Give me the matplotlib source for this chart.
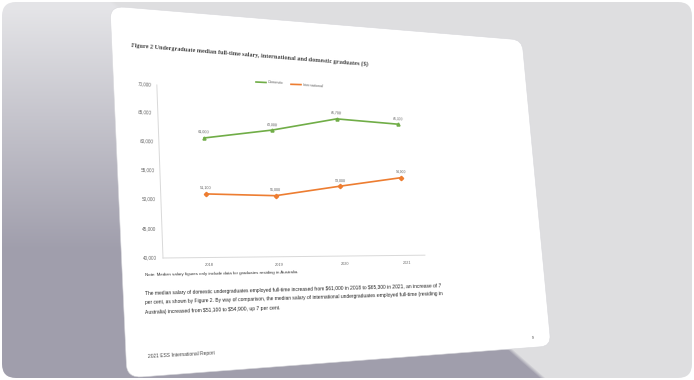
import numpy as np
import matplotlib
matplotlib.use("Agg")
import matplotlib.pyplot as plt
from matplotlib.transforms import Transform, Affine2D
from matplotlib.patches import FancyBboxPatch
from matplotlib.lines import Line2D

# ---------------- data ----------------
years = ["2018", "2019", "2020", "2021"]
domestic = [61000, 63000, 65700, 65300]
international = [51100, 51000, 53000, 54900]
y_ticks = [40000, 45000, 50000, 55000, 60000, 65000, 70000]
series_names = ["Domestic", "International"]
title = "Figure 2 Undergraduate median full-time salary, international and domestic graduates ($)"
note = "Note: Median salary figures only include data for graduates residing in Australia."
paragraph = [
    "The median salary of domestic undergraduates employed full-time increased from $61,000 in 2018 to $65,300 in 2021, an increase of 7",
    "per cent, as shown by Figure 2. By way of comparison, the median salary of international undergraduates employed full-time (residing in",
    "Australia) increased from $51,100 to $54,900, up 7 per cent.",
]
footer = "2021 ESS International Report"
page_no = "9"

GREEN = "#70ad47"
ORANGE = "#ed7d31"
SANS = ["Liberation Sans", "DejaVu Sans"]
SERIF = ["Liberation Serif", "DejaVu Serif"]

W, HP = 694, 380
fig = plt.figure(figsize=(W / 100, HP / 100), dpi=100)
fig.patch.set_facecolor("white")


def disp(x, y):
    return np.array([x, HP - y], float)


def homography(src, dst):
    A, b = [], []
    for (x, y), (u, v) in zip(src, dst):
        A.append([x, y, 1, 0, 0, 0, -u * x, -u * y]); b.append(u)
        A.append([0, 0, 0, x, y, 1, -v * x, -v * y]); b.append(v)
    h = np.linalg.solve(np.array(A, float), np.array(b, float))
    return np.append(h, 1.0).reshape(3, 3)


flat_corners = [disp(110, 6), disp(551, 6), disp(551, 378), disp(110, 378)]
obs_corners = [disp(110, 6), disp(522, 40), disp(551, 346), disp(127, 378)]
HM = homography(flat_corners, obs_corners)

# slight extra clockwise rotation for the page content
th = -0.015
cx, cy = disp(330, 192)
c, s = np.cos(th), np.sin(th)
R = np.array([[c, -s, cx - c * cx + s * cy],
              [s, c, cy - s * cx - c * cy],
              [0, 0, 1.0]])
HC = R @ HM
HCINV = np.linalg.inv(HC)


class Persp(Transform):
    input_dims = 2
    output_dims = 2
    is_separable = False
    has_inverse = False

    def __init__(self, M):
        super().__init__()
        self.M = M

    def transform_non_affine(self, values):
        v = np.asarray(values, float)
        one = v.ndim == 1
        v = np.atleast_2d(v)
        p = np.column_stack([v, np.ones(len(v))]) @ self.M.T
        r = p[:, :2] / p[:, 2:3]
        return r[0] if one else r


PP = Persp(HM)   # page outline
P = Persp(HC)    # page content


def to_flat(x, y):
    d = disp(x, y)
    p = HCINV @ np.array([d[0], d[1], 1.0])
    return p[:2] / p[2]


def local_geom(fx, fy):
    p0 = P.transform_non_affine(np.array([[fx, fy]]))[0]
    px = P.transform_non_affine(np.array([[fx + 10, fy]]))[0]
    py = P.transform_non_affine(np.array([[fx, fy + 10]]))[0]
    ang = np.degrees(np.arctan2(px[1] - p0[1], px[0] - p0[0]))
    sc = np.hypot(*(py - p0)) / 10.0
    return ang, sc


# ---------------- background ----------------
bg = fig.add_axes([0, 0, 1, 1])
bg.set_xlim(0, W)
bg.set_ylim(HP, 0)
bg.axis("off")
yy, xx = np.mgrid[0:HP, 0:W] + 0.5
bx = np.where(yy <= 345, 110 + (505 - 110) * yy / 345, 505 + (yy - 345) * 40 / 35)
edge = np.clip((bx - xx) / 6 + 0.5, 0, 1)[..., None]
t = np.clip((yy - 10) / 240, 0, 1)[..., None]
light = np.array([228, 228, 231]) / 255
dark = np.array([160, 158, 172]) / 255
shade = light * (1 - t) + dark * t
base = np.array([222, 222, 224]) / 255
img = base * (1 - edge) + shade * edge
im = bg.imshow(img, extent=[0, W, HP, 0], zorder=0, interpolation="bilinear", aspect="auto")
frame = FancyBboxPatch((2, 2), W - 4, HP - 4, boxstyle="round,pad=0,rounding_size=14",
                       transform=bg.transData, facecolor="none", edgecolor="none")
bg.add_patch(frame)
im.set_clip_path(frame)

# page
f0 = disp(110, 378)
page = FancyBboxPatch((f0[0], f0[1]), 441, 372, boxstyle="round,pad=0,rounding_size=13",
                      transform=PP, facecolor="white", edgecolor="#d8d8dc", linewidth=0.4, zorder=2)
bg.add_artist(page)

# ---------------- chart ----------------
fTL = to_flat(158, 85)
fBL = to_flat(163, 258)
fBR = to_flat(425, 257)
ax = fig.add_axes([fBL[0] / W, fBL[1] / HP, (fBR[0] - fBL[0]) / W, (fTL[1] - fBL[1]) / HP])
ax.axis("off")
ax.set_xlim(-0.62, 3.31)
ax.set_ylim(y_ticks[0], y_ticks[-1])
T = ax.transData + P
xmin, xmax = ax.get_xlim()
xs = np.arange(len(years))

# axis lines
ax.add_artist(Line2D([xmin, xmin], [y_ticks[0], y_ticks[-1]], color="#d9d9d9", lw=0.7,
                     transform=T, clip_on=False))
ax.add_artist(Line2D([xmin, xmax], [y_ticks[0], y_ticks[0]], color="#d9d9d9", lw=0.7,
                     transform=T, clip_on=False))


def chart_text(x, y, s, dx, dy, size, **kw):
    fx, fy = ax.transData.transform((x, y)) + np.array([dx, dy])
    ang, sc = local_geom(fx, fy)
    ax.text(x, y, s, transform=ax.transData + Affine2D().translate(dx, dy) + P,
            rotation=ang, rotation_mode="anchor", fontsize=size * sc, clip_on=False,
            family=SANS, **kw)


for v in y_ticks:
    chart_text(xmin, v, f"{v:,}", -5, 0, 3.4, ha="right", va="center", color="#666666")
for i, yr in enumerate(years):
    chart_text(i, y_ticks[0], yr, 0, -6, 3.0, ha="center", va="top", color="#666666")

for vals, col, mk in [(domestic, GREEN, "^"), (international, ORANGE, "D")]:
    ax.add_artist(Line2D(xs, vals, color=col, lw=1.2, marker=mk, ms=2.2,
                         transform=T, clip_on=False, solid_capstyle="round"))
    for i, v in enumerate(vals):
        chart_text(i, v, f"{v:,}", 0, 4, 2.8, ha="center", va="bottom", color="#555555")


# ---------------- page texts ----------------
def page_text(xo, yo, s, size, **kw):
    fx, fy = to_flat(xo, yo)
    ang, sc = local_geom(fx, fy)
    fig.text(fx, fy, s.replace("$", r"\$"), transform=P, rotation=ang, rotation_mode="anchor",
             fontsize=size * sc, **kw)


def page_line(p1, p2, **kw):
    a = to_flat(*p1)
    b = to_flat(*p2)
    fig.add_artist(Line2D([a[0], b[0]], [a[1], b[1]], transform=P, **kw))


page_text(131, 45, title, 4.6, ha="left", va="center", color="#444444", family=SERIF,
          fontweight="bold")

# legend
page_line((256, 82), (266, 82.5), color=GREEN, lw=1.2)
page_text(268, 82.5, series_names[0], 3.1, ha="left", va="center", color="#666666", family=SANS)
page_line((291, 84.3), (301, 84.6), color=ORANGE, lw=1.2)
page_text(303, 84.8, series_names[1], 3.1, ha="left", va="center", color="#666666", family=SANS)

page_text(145, 275, note, 3.1, ha="left", va="center", color="#333333", family=SANS)
for k, line in enumerate(paragraph):
    page_text(145, 293.3 + 9.4 * k, line, 3.5, ha="left", va="center", color="#222222", family=SANS)
page_text(148, 357, footer, 3.4, ha="left", va="center", color="#444444", family=SANS)
page_text(533, 338, page_no, 3.0, ha="center", va="center", color="#444444", family=SANS)

fig.savefig("out.png", dpi=100, facecolor=fig.get_facecolor())
